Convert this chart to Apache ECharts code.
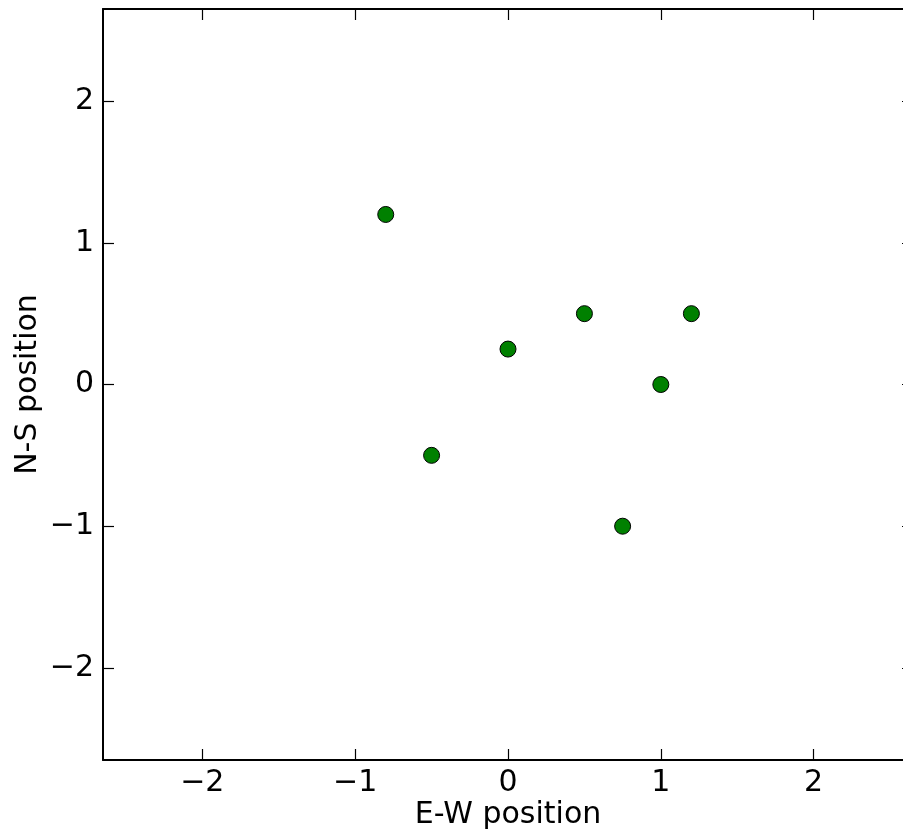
<!DOCTYPE html>
<html>
<head>
<meta charset="utf-8">
<script src="https://cdn.jsdelivr.net/npm/echarts@6/dist/echarts.min.js"></script>
<style>html,body{margin:0;padding:0;background:#fff}#c{width:903px;height:830px}</style>
</head>
<body>
<div id="c"></div>
<script>
const ewPos = [-0.8, -0.5, 0, 0.5, 1.2, 1.0, 0.75];
const nsPos = [1.2, -0.5, 0.25, 0.5, 0.5, 0.0, -1.0];
const axisMin = -2.65, axisMax = 2.65;
const xName = 'E-W position', yName = 'N-S position';

const pts = ewPos.map((x, i) => [x, nsPos[i]]);
const font = 'DejaVu Sans';
const fmt = v => (Math.abs(v - Math.round(v)) < 1e-9 ? String(Math.round(v)).replace('-', '\u2212') : '');
const common = {
  type: 'value', min: axisMin, max: axisMax, interval: 1,
  splitLine: { show: false },
  axisLine: { show: true, onZero: false, lineStyle: { color: '#000', width: 2 } },
  axisTick: { show: true, inside: true, length: 11, lineStyle: { color: '#000', width: 1.2 },
    customValues: [-2, -1, 0, 1, 2] },
};
const chart = echarts.init(document.getElementById('c'), null, { renderer: 'canvas' });
chart.setOption({
  animation: false,
  backgroundColor: '#fff',
  grid: { left: 103, top: 9, width: 810, height: 751, containLabel: false, outerBoundsMode: 'none' },
  xAxis: [
    Object.assign({}, common, {
      position: 'bottom', name: xName, nameLocation: 'middle', nameGap: 40, nameMoveOverlap: false,
      nameTextStyle: { fontFamily: font, fontSize: 30, color: '#000' },
      axisLabel: { show: true, customValues: [-2, -1, 0, 1, 2], formatter: fmt, margin: 8,
        fontFamily: font, fontSize: 30, color: '#000' }
    }),
    Object.assign({}, common, { position: 'top', axisLabel: { show: false } })
  ],
  yAxis: [
    Object.assign({}, common, {
      position: 'left', name: yName, nameLocation: 'middle', nameGap: 60, nameMoveOverlap: false,
      nameTextStyle: { fontFamily: font, fontSize: 30, color: '#000' },
      axisLabel: { show: true, customValues: [-2, -1, 0, 1, 2], formatter: fmt, margin: 9,
        fontFamily: font, fontSize: 30, color: '#000' }
    }),
    Object.assign({}, common, { position: 'right', axisLabel: { show: false } })
  ],
  series: [{
    type: 'scatter', data: pts, symbol: 'circle', symbolSize: 16,
    itemStyle: { color: '#008000', opacity: 1, borderColor: '#000', borderWidth: 1 }
  }]
});
</script>
</body>
</html>
